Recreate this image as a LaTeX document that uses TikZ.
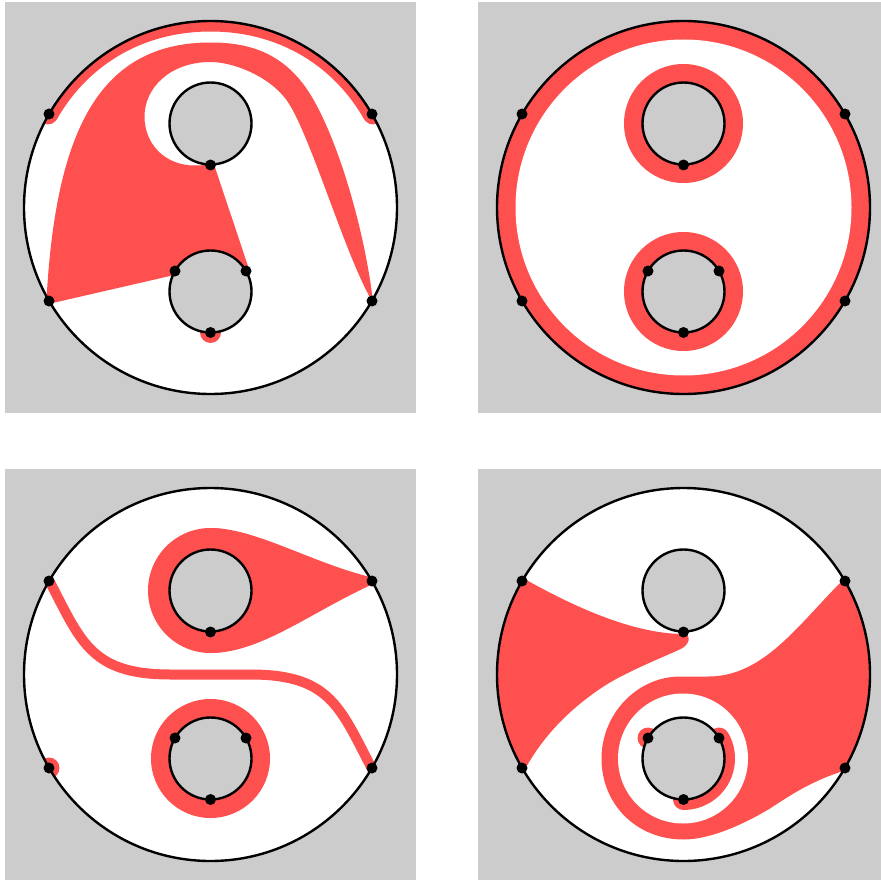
\documentclass[tikz,border=0pt]{standalone}
\usepackage{tikz}
\definecolor{wedge}{HTML}{FF5050}
\definecolor{panel}{HTML}{CCCCCC}
\tikzset{
  rim/.style={draw=black,line width=2.4pt},
  band/.style={draw=wedge,line width=10pt},
}
\newcommand\discbase[1]{%
  \fill[panel] (-205.5,-205.5) rectangle (#1,205.5);
  \fill[white] (0,0) circle (186.5);}
\newcommand\discfront{%
  \draw[rim,fill=panel] (0,-84) circle (41);
  \draw[rim,fill=panel] (0,84) circle (41);
  \draw[rim] (0,0) circle (186.5);
  \foreach \p in {(-161.5,-93.5),(161.5,-93.5),(-161.5,93.5),(161.5,93.5),
    (0,-42.5),(-35.5,63.5),(35.5,63.5),(0,125)}
    \fill[black] \p circle (5.5);}
\begin{document}
\begin{tikzpicture}[x=1pt,y=-1pt]
\useasboundingbox (0,0) rectangle (881,880);
% top left
\begin{scope}[shift={(210.5,207.5)}]
\discbase{205.5}
\begin{scope}
\clip (0,0) circle (186.5);
\fill[wedge] (-200,-84) -- (-167,-84) .. controls (-161,-82) and (-156,-83) .. (-152,-91)
  .. controls (-120,-145) and (-65,-176) .. (0,-176)
  .. controls (65,-176) and (120,-145) .. (152,-91)
  .. controls (156,-83) and (161,-82) .. (167,-84) -- (200,-84) -- (200,-220) -- (-200,-220) -- cycle;
\fill[wedge] (0,125) circle (10.5);
\fill[wedge] (-164,92) .. controls (-155,-70) and (-115,-165) .. (0,-165)
  .. controls (35,-165) and (65.5,-156.5) .. (89.5,-127.5)
  .. controls (120,-92) and (152,10) .. (162,90) -- (159,89)
  .. controls (133,42) and (98,-77.5) .. (76,-107.5)
  .. controls (58,-132) and (22,-145.5) .. (0,-145.5)
  .. controls (-40,-145.5) and (-66,-120) .. (-66,-91)
  .. controls (-66,-63) and (-45,-42) .. (-16,-42)
  -- (0,-42.5) -- (4.5,-40) -- (38,60) -- (0,84) -- (-40.5,68.5) -- (-160,96) -- cycle;
\end{scope}
\discfront
\end{scope}
% top right
\begin{scope}[shift={(683.5,207.5)}]
\discbase{197.5}
\fill[wedge] (0,0) circle (186.5);
\fill[white] (0,0) circle (168);
\fill[wedge] (0,-84) circle (59.5);
\fill[wedge] (0,84) circle (59.5);
\discfront
\end{scope}
% bottom left
\begin{scope}[shift={(210.5,674.5)}]
\discbase{205.5}
\begin{scope}
\clip (0,0) circle (186.5);
\fill[wedge] (0,-84) circle (62.5);
\fill[wedge] (0,-146.5) .. controls (45,-146.5) and (100,-112) .. (161.5,-97)
  -- (161.5,-90) .. controls (100,-62) and (50,-21.5) .. (0,-21.5) -- cycle;
\fill[wedge] (0,84) circle (59.5);
\draw[band] (-164,-99) .. controls (-130,-35) and (-122,0) .. (-40,0)
  -- (40,0) .. controls (122,0) and (130,35) .. (164,99);
\fill[wedge] (-161.5,93.5) circle (10.5);
\end{scope}
\discfront
\end{scope}
% bottom right
\begin{scope}[shift={(683.5,674.5)}]
\discbase{197.5}
\begin{scope}
\clip (0,0) circle (186.5);
\fill[wedge] (-200,-97) -- (-158,-95) .. controls (-110,-68) and (-50,-40.5) .. (0,-40.5)
  .. controls (8,-40) and (7,-29) .. (-5,-24.5)
  .. controls (-25,-15.5) and (-60,-1.2) .. (-80,12)
  .. controls (-115,35) and (-140,62) .. (-157,92) -- (-158,94) -- (-200,94) -- cycle;
\fill[wedge] (200,-97) -- (158,-93) .. controls (115,-50) and (80,2) .. (25,2)
  -- (-3,2) .. controls (-47,2) and (-82,40) .. (-82,84)
  .. controls (-82,130) and (-47,165) .. (0,165)
  .. controls (30,165) and (66.5,146) .. (86.5,134)
  .. controls (105,122) and (125,108) .. (158,97) -- (200,97) -- cycle;
\fill[white] (-.5,84) circle (65);
\draw[wedge,line width=21pt,line cap=round] (35.5,63.5) arc (-30:90:41);
\fill[wedge] (-35.5,63.5) circle (10.5);
\end{scope}
\discfront
\end{scope}
\end{tikzpicture}
\end{document}
